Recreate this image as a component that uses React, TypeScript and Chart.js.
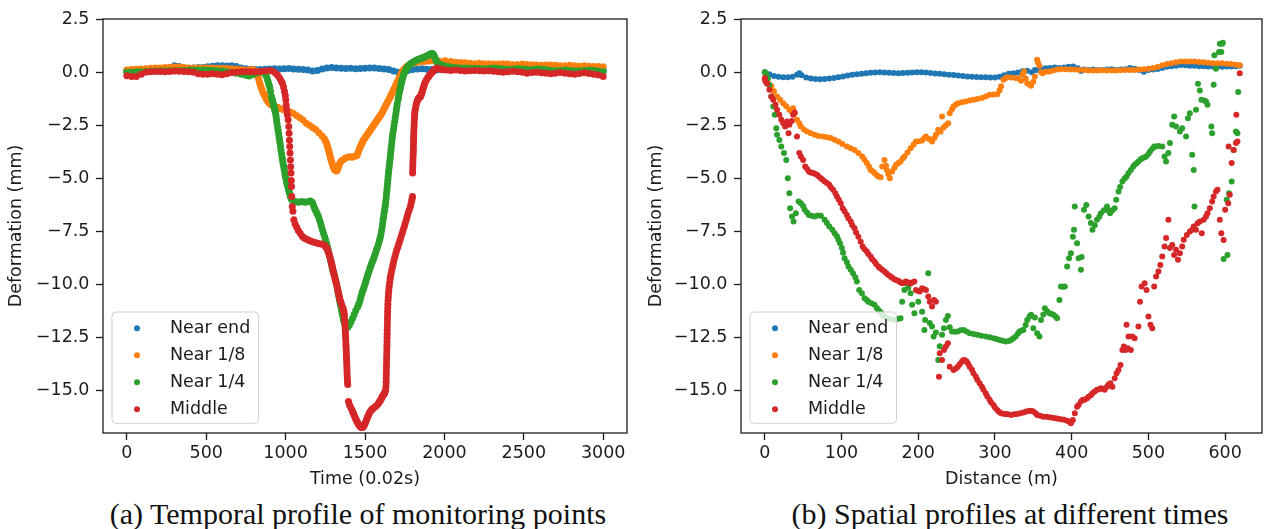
import React, { useEffect, useRef } from "react";
import { Chart, registerables } from "chart.js";

Chart.register(...registerables);

type Pt = [number, number];

const seriesLabels = ["Near end", "Near 1/8", "Near 1/4", "Middle"];
const seriesColors = ["#1f77b4", "#ff7f0e", "#2ca02c", "#d62728"];

const deformationTicks = [2.5, 0, -2.5, -5, -7.5, -10, -12.5, -15];
const timeTicks = [0, 500, 1000, 1500, 2000, 2500, 3000];
const distanceTicks = [0, 100, 200, 300, 400, 500, 600];

const captions = [
  "(a) Temporal profile of monitoring points",
  "(b) Spatial profiles at different times",
];

// ---- (a) deformation vs. time (0.02 s samples) ----
const nearEndTemporal: Pt[] = [
  [0,.08],[30,.1],[60,.12],[90,.1],[120,.12],[150,.14],[180,.15],[210,.16],[240,.18],[270,.22],[300,.3],[330,.26],[360,.2],[390,.18],[420,.2],[450,.22],[480,.22],[510,.25],[540,.28],[570,.3],[600,.3],[630,.29],[660,.3],[690,.26],[720,.2],[750,.16],[780,.14],[810,.12],[840,.12],[870,.14],[900,.15],[930,.16],[960,.15],[990,.16],[1020,.17],[1050,.15],[1080,.14],[1110,.12],[1140,.1],[1170,.05],[1200,.08],[1230,.15],[1260,.2],[1290,.22],[1320,.2],[1350,.18],[1380,.17],[1410,.18],[1440,.16],[1470,.17],[1500,.18],[1530,.2],[1560,.19],[1590,.17],[1620,.15],[1650,.12],[1680,.05],[1710,0],[1740,.04],[1770,.08],[1800,.12],[1830,.15],[1860,.16],[1890,.14],[1920,.12],[1950,.1],[1980,.12],[2010,.14],[2040,.15],[2070,.13],[2100,.12],[2130,.1],[2160,.12],[2190,.14],[2220,.12],[2250,.1],[2280,.12],[2310,.15],[2340,.14],[2370,.12],[2400,.1],[2430,.12],[2460,.14],[2490,.12],[2520,.1],[2550,.11],[2580,.13],[2610,.12],[2640,.1],[2670,.09],[2700,.11],[2730,.12],[2760,.1],[2790,.08],[2820,.1],[2850,.12],[2880,.1],[2910,.08],[2940,.1],[2970,.12],[3000,.1],
];

const nearEighthTemporal: Pt[] = [
  [0,.1],[30,.12],[60,.14],[90,.15],[120,.16],[150,.18],[180,.2],[210,.2],[240,.22],[270,.22],[300,.24],[330,.24],[360,.22],[390,.2],[420,.2],[450,.2],[480,.2],[510,.2],[540,.2],[570,.18],[600,.18],[630,.18],[660,.16],[690,.15],[720,.12],[750,.1],[780,.12],[800,.1],[808,.05],[815,0],[820,-.1],[825,-.2],[830,-.32],[835,-.45],[840,-.58],[845,-.7],[850,-.8],[855,-.9],[860,-.98],[865,-1.05],[870,-1.13],[875,-1.2],[880,-1.28],[885,-1.35],[895,-1.45],[910,-1.55],[930,-1.6],[950,-1.65],[970,-1.72],[990,-1.78],[1010,-1.82],[1030,-1.88],[1050,-1.95],[1070,-2.05],[1090,-2.15],[1110,-2.25],[1130,-2.4],[1150,-2.5],[1170,-2.6],[1190,-2.7],[1210,-2.85],[1230,-3.0],[1245,-3.15],[1252,-3.25],[1258,-3.34],[1262,-3.45],[1266,-3.55],[1270,-3.65],[1273,-3.75],[1277,-3.85],[1280,-3.95],[1284,-4.05],[1287,-4.15],[1291,-4.24],[1294,-4.32],[1298,-4.4],[1302,-4.48],[1306,-4.55],[1310,-4.6],[1320,-4.65],[1325,-4.6],[1330,-4.52],[1335,-4.4],[1340,-4.3],[1350,-4.18],[1361,-4.13],[1375,-4.05],[1390,-4.0],[1405,-3.98],[1420,-4.0],[1435,-3.96],[1445,-3.93],[1451,-3.9],[1455,-3.8],[1460,-3.7],[1465,-3.61],[1470,-3.52],[1475,-3.43],[1480,-3.35],[1485,-3.27],[1490,-3.19],[1497,-3.12],[1503,-3.05],[1510,-2.98],[1516,-2.92],[1522,-2.85],[1528,-2.78],[1535,-2.71],[1541,-2.64],[1548,-2.57],[1554,-2.5],[1561,-2.43],[1567,-2.36],[1574,-2.29],[1580,-2.22],[1587,-2.15],[1593,-2.08],[1600,-2.0],[1606,-1.93],[1613,-1.83],[1619,-1.74],[1626,-1.64],[1632,-1.55],[1639,-1.45],[1645,-1.36],[1652,-1.27],[1658,-1.18],[1664,-1.08],[1670,-.99],[1677,-.88],[1683,-.78],[1690,-.68],[1696,-.58],[1702,-.48],[1708,-.38],[1715,-.28],[1721,-.18],[1728,-.07],[1734,.03],[1741,.09],[1748,.15],[1755,.2],[1762,.25],[1770,.29],[1778,.33],[1788,.38],[1799,.42],[1810,.44],[1820,.46],[1835,.48],[1850,.5],[1876,.5],[1905,.52],[1935,.53],[1965,.52],[2004,.53],[2040,.5],[2070,.47],[2100,.45],[2130,.44],[2160,.42],[2190,.4],[2220,.42],[2250,.4],[2280,.4],[2310,.38],[2340,.38],[2370,.4],[2400,.38],[2430,.35],[2460,.36],[2490,.38],[2520,.36],[2550,.35],[2580,.34],[2610,.32],[2640,.33],[2670,.34],[2700,.32],[2730,.3],[2760,.3],[2790,.32],[2820,.3],[2850,.28],[2880,.3],[2910,.28],[2940,.26],[2970,.27],[3000,.25],
];

const nearQuarterTemporal: Pt[] = [
  [0,0],[30,0],[60,.02],[90,.02],[120,.03],[150,.04],[180,.05],[210,.06],[240,.06],[270,.06],[300,.07],[330,.08],[360,.08],[390,.1],[420,.1],[450,.1],[480,.1],[510,.1],[540,.08],[570,.06],[600,.05],[630,.02],[660,0],[690,-.05],[720,-.1],[750,-.15],[770,-.18],[790,-.12],[810,-.05],[830,0],[850,.02],[866,-.05],[873,-.1],[880,-.2],[885,-.32],[890,-.45],[895,-.58],[900,-.7],[905,-.9],[911,-1.15],[915,-1.27],[918,-1.35],[921,-1.45],[925,-1.55],[928,-1.65],[931,-1.75],[934,-1.84],[937,-1.93],[940,-2.08],[943,-2.25],[946,-2.42],[950,-2.6],[953,-2.75],[956,-2.9],[959,-3.05],[962,-3.19],[965,-3.35],[968,-3.5],[971,-3.68],[975,-3.85],[978,-4.0],[981,-4.15],[984,-4.3],[988,-4.44],[991,-4.57],[994,-4.7],[997,-4.83],[1000,-4.95],[1004,-5.07],[1007,-5.18],[1010,-5.28],[1014,-5.38],[1017,-5.48],[1020,-5.58],[1024,-5.67],[1027,-5.75],[1030,-5.83],[1033,-5.9],[1036,-5.96],[1040,-6.01],[1050,-6.08],[1065,-6.1],[1080,-6.12],[1095,-6.1],[1110,-6.1],[1125,-6.12],[1140,-6.1],[1155,-6.06],[1163,-6.1],[1170,-6.15],[1176,-6.27],[1182,-6.4],[1188,-6.5],[1195,-6.6],[1201,-6.7],[1207,-6.79],[1213,-6.95],[1220,-7.1],[1226,-7.26],[1232,-7.42],[1238,-7.57],[1245,-7.72],[1251,-7.88],[1258,-8.05],[1263,-8.2],[1268,-8.35],[1273,-8.52],[1278,-8.7],[1283,-8.87],[1288,-9.05],[1293,-9.2],[1298,-9.35],[1304,-9.48],[1310,-9.62],[1315,-9.8],[1320,-9.98],[1325,-10.17],[1329,-10.35],[1334,-10.52],[1338,-10.7],[1343,-10.87],[1348,-11.03],[1352,-11.2],[1356,-11.35],[1360,-11.5],[1364,-11.65],[1369,-11.78],[1374,-11.9],[1378,-11.97],[1383,-12.02],[1392,-12.0],[1402,-11.9],[1412,-11.75],[1422,-11.58],[1432,-11.4],[1442,-11.22],[1453,-11.05],[1459,-10.95],[1464,-10.85],[1470,-10.7],[1475,-10.55],[1480,-10.42],[1485,-10.3],[1490,-10.2],[1495,-10.1],[1500,-9.97],[1505,-9.85],[1510,-9.72],[1515,-9.6],[1520,-9.49],[1525,-9.38],[1530,-9.26],[1535,-9.15],[1540,-9.05],[1545,-8.95],[1550,-8.85],[1556,-8.75],[1561,-8.62],[1567,-8.5],[1572,-8.37],[1578,-8.25],[1584,-8.1],[1590,-7.95],[1595,-7.8],[1600,-7.65],[1604,-7.48],[1608,-7.3],[1611,-7.12],[1614,-6.95],[1617,-6.8],[1620,-6.65],[1623,-6.5],[1626,-6.35],[1629,-6.2],[1631,-6.05],[1634,-5.88],[1636,-5.7],[1638,-5.55],[1640,-5.4],[1642,-5.23],[1644,-5.07],[1646,-4.91],[1648,-4.75],[1650,-4.6],[1652,-4.45],[1655,-4.29],[1657,-4.13],[1659,-3.99],[1661,-3.85],[1663,-3.7],[1665,-3.55],[1668,-3.37],[1670,-3.19],[1673,-3.02],[1676,-2.85],[1680,-2.68],[1683,-2.5],[1687,-2.32],[1690,-2.15],[1694,-1.97],[1697,-1.8],[1700,-1.65],[1703,-1.5],[1708,-1.3],[1712,-1.15],[1715,-1.0],[1719,-.87],[1722,-.75],[1725,-.65],[1728,-.55],[1731,-.45],[1734,-.36],[1738,-.25],[1742,-.15],[1746,-.07],[1750,0],[1755,.08],[1760,.15],[1766,.22],[1772,.28],[1778,.33],[1785,.38],[1792,.42],[1799,.45],[1807,.49],[1815,.52],[1823,.56],[1832,.6],[1841,.62],[1850,.63],[1858,.66],[1866,.68],[1875,.71],[1883,.74],[1891,.77],[1900,.8],[1906,.83],[1912,.85],[1917,.87],[1922,.88],[1927,.86],[1932,.82],[1936,.76],[1940,.68],[1945,.59],[1950,.5],[1956,.45],[1962,.4],[1970,.37],[1979,.35],[1987,.32],[1995,.3],[2010,.27],[2025,.25],[2040,.24],[2070,.22],[2100,.2],[2130,.2],[2160,.18],[2190,.18],[2220,.17],[2250,.16],[2280,.18],[2310,.2],[2340,.18],[2370,.15],[2400,.14],[2430,.15],[2460,.17],[2490,.15],[2520,.12],[2550,.12],[2580,.15],[2610,.14],[2640,.12],[2670,.08],[2700,.06],[2730,.08],[2760,.1],[2790,.08],[2820,.05],[2850,.06],[2880,.08],[2910,.1],[2940,.08],[2970,.05],[3000,.02],
];

const middleTemporal: Pt[] = [
  [0,-.17],[30,-.2],[60,-.2],[90,-.1],[120,0],[150,.02],[180,.03],[210,.03],[240,.02],[270,.03],[300,.05],[330,.04],[360,.03],[390,.02],[420,0],[450,-.08],[480,-.1],[510,-.1],[540,-.08],[570,-.1],[600,-.12],[630,-.08],[660,-.02],[690,0],[720,.02],[750,.03],[780,.02],[810,.02],[840,.03],[870,.05],[900,.08],[920,.04],[937,-.05],[950,-.15],[962,-.28],[972,-.4],[980,-.52],[987,-.7],[993,-.91],[998,-1.1],[1001,-1.3],[1004,-1.55],[1007,-1.77],[1011,-2.0],[1016,-2.24],[1020,-2.56],[1022,-2.87],[1024,-3.2],[1026,-3.5],[1028,-3.81],[1030,-4.13],[1032,-4.45],[1034,-4.75],[1036,-5.1],[1037,-5.38],[1039,-5.85],[1042,-6.32],[1046,-6.55],[1052,-6.95],[1060,-7.15],[1070,-7.3],[1080,-7.45],[1092,-7.58],[1105,-7.72],[1117,-7.8],[1130,-7.85],[1143,-7.9],[1155,-7.94],[1170,-7.98],[1185,-8.02],[1200,-8.05],[1215,-8.08],[1230,-8.1],[1245,-8.15],[1251,-8.2],[1257,-8.25],[1262,-8.32],[1266,-8.4],[1270,-8.5],[1275,-8.6],[1280,-8.72],[1284,-8.85],[1288,-8.95],[1291,-9.05],[1294,-9.15],[1297,-9.25],[1301,-9.38],[1304,-9.5],[1308,-9.6],[1311,-9.7],[1314,-9.79],[1317,-9.88],[1320,-9.96],[1323,-10.05],[1327,-10.18],[1330,-10.3],[1333,-10.4],[1336,-10.5],[1340,-10.62],[1343,-10.72],[1347,-10.8],[1350,-10.88],[1355,-11.0],[1361,-11.1],[1364,-11.18],[1366,-11.25],[1368,-11.35],[1370,-11.45],[1371,-11.6],[1373,-11.75],[1374,-11.9],[1375,-12.05],[1376,-12.2],[1377,-12.35],[1378,-12.5],[1379,-12.65],[1380,-12.8],[1381,-12.95],[1382,-13.1],[1382.5,-13.25],[1383,-13.4],[1384,-13.55],[1385,-13.7],[1386,-13.85],[1386.5,-14.0],[1387,-14.15],[1388,-14.3],[1389,-14.45],[1390,-14.58],[1391,-14.7],[1396,-15.5],[1402,-15.65],[1410,-15.78],[1418,-15.9],[1423,-15.99],[1428,-16.08],[1433,-16.17],[1438,-16.25],[1443,-16.34],[1448,-16.42],[1453,-16.49],[1458,-16.56],[1463,-16.61],[1468,-16.66],[1473,-16.7],[1478,-16.72],[1483,-16.72],[1488,-16.7],[1492,-16.65],[1496,-16.6],[1500,-16.53],[1505,-16.45],[1509,-16.37],[1514,-16.28],[1518,-16.2],[1523,-16.12],[1527,-16.05],[1532,-15.98],[1537,-15.93],[1542,-15.88],[1547,-15.85],[1552,-15.82],[1562,-15.76],[1572,-15.7],[1582,-15.62],[1587,-15.56],[1592,-15.5],[1596,-15.45],[1600,-15.4],[1604,-15.34],[1608,-15.28],[1612,-15.23],[1616,-15.18],[1620,-15.14],[1624,-15.1],[1627,-15.03],[1630,-14.95],[1632,-14.78],[1633,-14.6],[1633.5,-14.42],[1634,-14.25],[1634.5,-14.08],[1635,-13.9],[1635.5,-13.72],[1636,-13.55],[1636.5,-13.38],[1637,-13.2],[1637.5,-13.02],[1638,-12.85],[1638.5,-12.68],[1639,-12.5],[1639.5,-12.33],[1640,-12.15],[1640.5,-11.98],[1641,-11.8],[1641.5,-11.62],[1642,-11.45],[1642.5,-11.28],[1643,-11.1],[1644,-10.92],[1645,-10.75],[1646.5,-10.58],[1648,-10.4],[1650,-10.25],[1652,-10.09],[1655,-9.92],[1658,-9.75],[1661,-9.6],[1665,-9.46],[1669,-9.3],[1674,-9.15],[1678,-9.0],[1683,-8.83],[1689,-8.66],[1695,-8.5],[1701,-8.35],[1708,-8.21],[1714,-8.05],[1721,-7.9],[1727,-7.74],[1734,-7.58],[1740,-7.43],[1747,-7.28],[1753,-7.11],[1760,-6.95],[1766,-6.78],[1772,-6.62],[1779,-6.47],[1786,-6.32],[1790,-6.18],[1794,-6.05],[1797,-5.95],[1799,-5.85],[1800,-4.75],[1800.5,-4.6],[1801,-4.45],[1801.5,-4.29],[1802,-4.13],[1803,-3.97],[1804,-3.81],[1804.5,-3.65],[1805,-3.5],[1805.5,-3.34],[1806,-3.18],[1806.5,-3.02],[1807,-2.87],[1808,-2.71],[1809,-2.55],[1810,-2.38],[1811,-2.2],[1812,-2.06],[1813,-1.93],[1815,-1.8],[1818,-1.7],[1821,-1.58],[1824,-1.46],[1828,-1.38],[1832,-1.3],[1836,-1.25],[1840,-1.2],[1845,-1.17],[1850,-1.15],[1854,-1.07],[1857,-1.0],[1860,-.92],[1863,-.83],[1867,-.75],[1870,-.68],[1873,-.6],[1876,-.52],[1882,-.43],[1888,-.35],[1895,-.27],[1901,-.2],[1907,-.14],[1914,-.08],[1920,-.02],[1927,.03],[1933,.08],[1940,.12],[1947,.16],[1953,.19],[1961,.17],[1970,.15],[1980,.13],[1990,.11],[2010,.1],[2040,.08],[2070,.1],[2100,.08],[2130,.05],[2160,.06],[2190,.08],[2220,.06],[2250,.05],[2280,.06],[2310,.04],[2340,.02],[2370,0],[2400,.02],[2430,.04],[2460,.02],[2490,0],[2520,-.05],[2550,-.02],[2580,0],[2610,-.03],[2640,-.05],[2670,-.08],[2700,-.05],[2730,-.02],[2760,-.05],[2790,-.08],[2820,-.1],[2850,-.06],[2880,-.03],[2910,-.06],[2940,-.1],[2970,-.14],[3000,-.2],
];

// ---- (b) deformation vs. distance along the line (m) ----
const nearEndSpatial: Pt[] = [
  [0,0],[6,-.1],[12,-.18],[18,-.22],[24,-.24],[30,-.24],[36,-.22],[42,-.12],[45,-.05],[48,-.15],[54,-.25],[60,-.3],[66,-.32],[72,-.34],[78,-.32],[84,-.3],[90,-.28],[96,-.24],[102,-.2],[108,-.16],[114,-.12],[120,-.1],[126,-.08],[132,-.05],[138,-.03],[144,-.02],[150,0],[156,-.02],[162,-.03],[168,-.04],[174,-.05],[180,-.04],[186,-.03],[192,-.02],[198,0],[204,0],[210,-.02],[216,-.04],[222,-.06],[228,-.08],[234,-.1],[240,-.12],[246,-.14],[252,-.16],[258,-.18],[264,-.2],[270,-.22],[276,-.23],[282,-.24],[288,-.24],[294,-.25],[300,-.25],[306,-.22],[312,-.15],[318,-.08],[324,-.05],[330,-.02],[336,.04],[342,.06],[348,0],[352,.1],[356,.1],[360,.15],[366,.18],[372,.2],[378,.22],[384,.2],[390,.22],[396,.25],[402,.27],[408,.18],[412,.05],[416,.12],[422,.1],[428,.12],[434,.1],[440,.1],[446,.12],[452,.14],[458,.1],[464,.12],[470,.14],[476,.2],[482,.16],[488,.1],[494,.02],[500,.1],[506,.12],[512,.15],[518,.2],[524,.25],[530,.28],[536,.3],[542,.33],[548,.32],[554,.3],[560,.3],[566,.28],[572,.28],[578,.27],[584,.26],[590,.26],[596,.25],[602,.26],[608,.27],[614,.28],[619,.3],
];

const nearEighthSpatial: Pt[] = [
  [0,-.36],[4,-.5],[8.5,-.67],[12,-.9],[16,-1.15],[20,-1.3],[24,-1.46],[28,-1.6],[32,-1.77],[35,-1.85],[37,-1.7],[39,-1.95],[42,-2.24],[45,-2.4],[47,-2.56],[51,-2.7],[55,-2.79],[60,-2.88],[65,-2.95],[70,-3.0],[76,-3.03],[81,-3.06],[86,-3.1],[91,-3.18],[96,-3.26],[101,-3.38],[107,-3.5],[112,-3.58],[117,-3.66],[122,-3.8],[127,-3.97],[130,-4.12],[133,-4.28],[136,-4.45],[138,-4.6],[141,-4.68],[143,-4.75],[146,-4.85],[148,-4.91],[151,-4.95],[153,-4.44],[156,-4.13],[158,-4.4],[159,-4.6],[161,-4.8],[163,-4.99],[166,-4.68],[169,-4.5],[171,-4.36],[174,-4.28],[177,-4.2],[180,-4.05],[182,-3.97],[186,-3.78],[190,-3.58],[194,-3.4],[197,-3.26],[201,-3.25],[205,-3.22],[208,-3.1],[210,-3.03],[214,-3.15],[218,-3.26],[221,-3.1],[223,-2.95],[226,-2.71],[229,-2.8],[231,-2.09],[233,-2.6],[236,-2.5],[239,-2.4],[241,-1.93],[244,-1.75],[246,-1.62],[249,-1.52],[252,-1.46],[257,-1.42],[262,-1.38],[267,-1.34],[272,-1.3],[277,-1.26],[283,-1.22],[288,-1.15],[293,-1.07],[298,-1.05],[303,-1.04],[306,-.85],[308,-.67],[311,-.36],[314,-.28],[316,-.24],[321,-.25],[327,-.28],[331,-.3],[334,-.4],[336,-.1],[338,.03],[340,-.3],[342,-.52],[345,-.58],[347,-.64],[350,-.45],[352,-.2],[355,.58],[356,.45],[358,.3],[360,0],[362,-.05],[366,.02],[371,.03],[376,.08],[381,.12],[386,.14],[392,.13],[398,.12],[404,.12],[410,.1],[416,.1],[422,.08],[428,.08],[434,.08],[440,.09],[446,.08],[452,.08],[458,.08],[464,.09],[470,.1],[476,.1],[482,.1],[488,.12],[494,.14],[500,.16],[506,.19],[512,.24],[518,.32],[524,.38],[530,.42],[536,.46],[542,.5],[548,.5],[554,.5],[560,.5],[566,.48],[572,.46],[578,.44],[584,.42],[590,.42],[596,.42],[602,.4],[608,.38],[614,.35],[619,.32],
];

const nearQuarterSpatial: Pt[] = [
  [0,0],[2,-.1],[4,-.3],[6,-.6],[8.5,-1.15],[11,-1.62],[13,-2.0],[15,-2.64],[16,-2.95],[19,-3.19],[21.5,-3.5],[25,-3.81],[28,-4.13],[30,-4.99],[32,-5.7],[33,-6.4],[35.5,-6.79],[37.5,-7.03],[40.5,-6.64],[44,-6.09],[47,-6.17],[50,-6.3],[52,-6.48],[55,-6.6],[57.5,-6.72],[61,-6.76],[65,-6.79],[69,-6.75],[73,-6.76],[78,-6.95],[81,-7.1],[84,-7.26],[88,-7.42],[91,-7.58],[94,-7.72],[96,-7.89],[98,-8.05],[100.5,-8.28],[102,-8.5],[104,-8.76],[107,-8.95],[109,-9.15],[112,-9.3],[115,-9.46],[118,-9.65],[120,-9.85],[123,-10.25],[126.5,-10.4],[130,-10.64],[133,-10.72],[135,-10.8],[139,-10.88],[143,-10.95],[146,-11.1],[148,-11.19],[151,-11.3],[153,-11.42],[156,-11.5],[158.5,-11.58],[163,-11.62],[169,-11.66],[174,-11.6],[177,-11.58],[179,-10.8],[182,-10.25],[184,-9.93],[187,-10.15],[190,-10.4],[192,-10.95],[195,-11.34],[200,-10.8],[205,-11.27],[208,-12.13],[209,-11.66],[213,-9.46],[215,-11.8],[218,-11.97],[220,-12.44],[223,-12.25],[226,-13.54],[228,-12.9],[231,-12.36],[233.5,-12.05],[236,-11.66],[238.6,-11.47],[241,-12.0],[244,-12.2],[248,-12.22],[251.5,-12.2],[255,-12.15],[259,-12.13],[263,-12.2],[267,-12.29],[272,-12.32],[277,-12.36],[282,-12.4],[288,-12.44],[293,-12.48],[298,-12.52],[302,-12.56],[306,-12.6],[310,-12.64],[314,-12.68],[318,-12.65],[321,-12.6],[324,-12.52],[327,-12.44],[330,-12.3],[332,-12.2],[335,-12.16],[337,-12.13],[340,-11.9],[342,-11.66],[345,-11.5],[347,-11.42],[350,-12.05],[352,-11.55],[355,-12.29],[358,-12.44],[360,-11.66],[363,-11.4],[365,-11.11],[368,-11.25],[371,-11.34],[374,-11.38],[376,-11.42],[379,-11.5],[381,-11.58],[384,-10.72],[386,-10.09],[389,-10.1],[391,-10.09],[394,-9.15],[396.5,-8.76],[399,-8.52],[401.5,-7.74],[403,-7.42],[404,-6.32],[407,-8.05],[409,-8.76],[412,-9.3],[413,-8.7],[416,-6.48],[419,-6.25],[422,-6.79],[425,-7.1],[427,-7.42],[430,-7.2],[433,-6.95],[436,-6.8],[438,-6.64],[442,-6.5],[446,-6.32],[448,-6.5],[450,-6.64],[453,-6.5],[456,-6.4],[458,-6.01],[461,-5.62],[463,-5.4],[466,-5.15],[469,-5.0],[471.5,-4.91],[474,-4.75],[477,-4.6],[480,-4.45],[482,-4.36],[485,-4.28],[487,-4.2],[490,-4.1],[492,-4.05],[495,-4.0],[497,-3.97],[500,-3.85],[502,-3.73],[505,-3.6],[507.5,-3.5],[510,-3.5],[513,-3.47],[518,-3.5],[521,-3.97],[523,-4.2],[526,-3.81],[528,-3.34],[531,-2.48],[533.5,-2.09],[536,-2.56],[541,-2.79],[544,-2.64],[549,-3.03],[551.5,-2.17],[554,-1.93],[557,-3.89],[559,-4.6],[560,-6.32],[562,-1.77],[564.6,-.55],[567,-.86],[569,-1.3],[573,-1.33],[575,-1.38],[577,-1.54],[582,-2.56],[583,-2.87],[585,-.59],[586,.8],[588,.16],[592,.95],[593,1.33],[595,.95],[596,1.33],[597,1.38],[598,-8.79],[602,-6.01],[603,-8.6],[605,-5.7],[608.5,-5.15],[611,-3.66],[614,-2.79],[616,-2.87],[617,-.94],
];

const middleSpatial: Pt[] = [
  [0,-.28],[1,-.44],[3,-.55],[6,-.83],[8.5,-1.15],[11,-1.3],[14,-1.54],[16,-1.77],[19,-2.0],[21.5,-2.24],[24,-2.4],[26.5,-2.56],[29,-2.32],[31,-2.87],[32,-2.48],[35,-2.3],[37,-2.0],[39,-1.9],[42,-3.03],[45,-3.81],[47,-3.97],[50,-4.13],[52.6,-4.44],[55,-4.55],[57.5,-4.68],[60,-4.72],[63,-4.75],[65,-4.78],[68,-4.83],[70,-4.9],[73,-4.99],[75,-5.05],[78,-5.15],[81,-5.22],[84,-5.3],[86,-5.42],[89,-5.54],[92,-5.7],[94,-5.85],[96.5,-6.01],[99,-6.17],[101.5,-6.4],[104,-6.55],[107,-6.72],[109,-6.88],[112,-7.03],[114,-7.2],[117,-7.34],[119,-7.55],[122,-7.74],[125,-7.98],[127.5,-8.21],[130,-8.33],[133,-8.44],[135,-8.56],[138,-8.68],[140,-8.8],[143,-8.91],[145,-9.03],[148,-9.15],[150,-9.22],[153,-9.3],[156,-9.38],[158.5,-9.46],[161,-9.54],[164,-9.62],[166,-9.68],[169,-9.74],[171,-9.78],[174,-9.82],[176,-9.88],[179,-9.93],[181,-9.9],[184,-9.85],[187,-9.9],[190,-9.95],[192,-9.9],[195,-9.85],[197,-10.25],[200,-10.3],[202,-10.32],[205,-10.17],[207,-10.2],[210,-10.25],[213,-10.56],[215,-10.8],[218,-11.03],[220.5,-10.72],[223,-10.8],[227,-14.33],[228,-13.23],[231,-13.54],[233.5,-13.07],[236,-12.91],[238.6,-12.76],[241,-13.86],[246,-14.01],[249,-13.95],[251.5,-13.86],[254,-13.75],[257,-13.62],[259,-13.54],[261,-13.56],[263,-13.62],[265,-13.72],[267,-13.86],[270,-14.0],[272,-14.17],[275,-14.32],[277,-14.48],[280,-14.64],[283,-14.8],[285,-14.95],[288,-15.11],[290,-15.26],[293,-15.42],[295,-15.54],[298,-15.66],[300,-15.78],[303,-15.9],[305,-15.98],[308,-16.05],[311,-16.07],[314,-16.09],[317,-16.1],[321,-16.13],[325,-16.1],[329,-16.09],[333,-16.05],[337,-16.02],[341,-15.97],[345,-15.93],[348,-15.95],[350,-15.97],[353,-16.05],[355,-16.13],[359,-16.17],[363,-16.21],[367,-16.22],[371,-16.24],[375,-16.26],[379,-16.29],[382,-16.31],[386,-16.33],[390,-16.36],[394,-16.4],[397,-16.45],[399,-16.52],[401.5,-16.37],[404,-16.05],[407,-15.74],[409,-15.66],[412,-15.5],[414.5,-15.42],[417,-15.42],[420,-15.35],[422,-15.27],[425,-15.2],[427,-15.11],[430,-15.03],[433,-14.95],[436,-14.92],[438,-14.88],[441,-14.9],[443,-14.95],[446,-14.8],[448,-14.7],[450.5,-14.64],[453,-14.8],[456,-14.4],[458.5,-14.17],[461,-14.01],[463.6,-13.78],[466,-13.07],[468,-12.91],[470,-13.07],[471.5,-11.89],[473,-12.99],[474,-12.44],[477,-13.07],[479,-12.44],[482,-12.52],[487,-11.97],[489,-10.8],[491,-10.09],[495,-9.93],[497.5,-10.25],[500,-11.5],[502.6,-11.89],[505,-12.05],[507.5,-10.09],[510,-9.62],[513,-9.38],[515.5,-9.07],[518,-8.68],[521,-8.21],[523,-7.81],[526,-6.95],[528,-8.28],[531,-8.13],[533.5,-8.6],[536,-8.36],[538.5,-8.83],[541,-8.52],[544,-8.21],[546,-7.89],[550,-7.66],[554,-7.5],[557,-7.42],[559,-7.26],[562,-7.42],[564,-7.11],[567,-7.03],[569.5,-7.58],[572,-6.95],[575,-6.79],[577,-6.64],[580,-6.4],[583,-6.09],[585,-5.85],[588,-5.62],[590,-5.54],[593,-6.95],[595,-7.58],[598,-7.9],[600,-6.48],[604,-6.17],[606,-5.77],[604.5,-3.5],[608.5,-4.28],[611,-3.66],[614,-3.34],[614.5,-2.0],[616,-3.26],[619,-.05],
];

const temporalSeries = [nearEndTemporal, nearEighthTemporal, nearQuarterTemporal, middleTemporal];
const spatialSeries = [nearEndSpatial, nearEighthSpatial, nearQuarterSpatial, middleSpatial];

const FONT = "'DejaVu Sans', sans-serif";
const INK = "#1c1c1c";
const PLOT_TOP = 19;
const PLOT_BOTTOM = 433;
const CANVAS_H = 492;

function signedLabel(v: number, digits: number): string {
  const s = Math.abs(v).toFixed(digits);
  return v < 0 ? "\u2212" + s : s;
}

interface PanelSpec {
  series: Pt[][];
  xTitle: string;
  xMin: number;
  xMax: number;
  xTicks: number[];
  axisWidth: number;
  rightPad: number;
  width: number;
  dotRadius: number;
}

const frameAndLegend = {
  id: "frameAndLegend",
  afterDatasetsDraw(chart: any) {
    const { ctx, chartArea: a } = chart;
    ctx.save();
    ctx.strokeStyle = INK;
    ctx.lineWidth = 1.3;
    ctx.strokeRect(a.left, a.top, a.right - a.left, a.bottom - a.top);

    // legend box in the lower-left corner of the plot
    const boxLeft = a.left + 9;
    const boxBottom = a.bottom - 9.7;
    const rowH = 27;
    const lastRow = boxBottom - 14;
    const firstRow = lastRow - rowH * (seriesLabels.length - 1);
    const boxTop = firstRow - 16.3;
    ctx.beginPath();
    ctx.roundRect(boxLeft, boxTop, 146.5, boxBottom - boxTop, 4);
    ctx.fillStyle = "rgba(255,255,255,0.8)";
    ctx.fill();
    ctx.strokeStyle = "#cfcfcf";
    ctx.lineWidth = 1;
    ctx.stroke();

    ctx.font = `17.5px ${FONT}`;
    ctx.textBaseline = "middle";
    ctx.textAlign = "left";
    seriesLabels.forEach((label, i) => {
      const y = firstRow + i * rowH;
      ctx.beginPath();
      ctx.arc(boxLeft + 25, y, 3, 0, Math.PI * 2);
      ctx.fillStyle = seriesColors[i];
      ctx.fill();
      ctx.fillStyle = INK;
      ctx.fillText(label, boxLeft + 58, y);
    });
    ctx.restore();
  },
};

function buildChart(canvas: HTMLCanvasElement, spec: PanelSpec) {
  const tickFont = { family: FONT, size: 17.5 };
  return new Chart(canvas, {
    type: "scatter",
    data: {
      datasets: spec.series.map((pts, i) => ({
        label: seriesLabels[i],
        data: pts.map(([x, y]) => ({ x, y })),
        backgroundColor: seriesColors[i],
        borderWidth: 0,
        pointRadius: spec.dotRadius,
        pointHoverRadius: spec.dotRadius,
        order: spec.series.length - i,
      })),
    },
    options: {
      animation: false,
      responsive: false,
      maintainAspectRatio: false,
      devicePixelRatio: 1,
      events: [],
      layout: { padding: { top: PLOT_TOP, right: spec.rightPad, left: 0, bottom: 0 } },
      plugins: { legend: { display: false }, tooltip: { enabled: false } },
      scales: {
        x: {
          type: "linear",
          min: spec.xMin,
          max: spec.xMax,
          afterBuildTicks: (s: any) => {
            s.ticks = spec.xTicks.map((v) => ({ value: v }));
          },
          afterFit: (s: any) => {
            s.height = CANVAS_H - PLOT_BOTTOM;
          },
          grid: { drawOnChartArea: false, drawTicks: true, tickLength: 7, tickColor: INK, tickWidth: 1.3 },
          border: { display: false },
          ticks: {
            color: INK,
            font: tickFont,
            padding: 3,
            maxRotation: 0,
            autoSkip: false,
            callback: (v: any) => String(v),
          },
          title: { display: true, text: spec.xTitle, color: INK, font: tickFont, padding: { top: 0, bottom: 2 } },
        },
        y: {
          type: "linear",
          min: -16.98,
          max: 2.5,
          afterBuildTicks: (s: any) => {
            s.ticks = deformationTicks.map((v) => ({ value: v }));
          },
          afterFit: (s: any) => {
            s.width = spec.axisWidth;
          },
          grid: { drawOnChartArea: false, drawTicks: true, tickLength: 7, tickColor: INK, tickWidth: 1.3 },
          border: { display: false },
          ticks: {
            color: INK,
            font: tickFont,
            padding: 6.5,
            autoSkip: false,
            callback: (v: any) => signedLabel(Number(v), 1),
          },
          title: { display: true, text: "Deformation (mm)", color: INK, font: tickFont, padding: { top: 5.5, bottom: 0 } },
        },
      },
    } as any,
    plugins: [frameAndLegend],
  });
}

function Panel({ spec, left }: { spec: PanelSpec; left: number }) {
  const ref = useRef<HTMLCanvasElement>(null);
  useEffect(() => {
    const chart = buildChart(ref.current as HTMLCanvasElement, spec);
    return () => chart.destroy();
  }, [spec]);
  return (
    <canvas
      ref={ref}
      width={spec.width}
      height={CANVAS_H}
      style={{ position: "absolute", left, top: 0, width: spec.width, height: CANVAS_H }}
    />
  );
}

const temporalPanel: PanelSpec = {
  series: temporalSeries,
  xTitle: "Time (0.02s)",
  xMin: -150,
  xMax: 3150,
  xTicks: timeTicks,
  axisWidth: 103,
  rightPad: 13,
  width: 640,
  dotRadius: 3.5,
};

const spatialPanel: PanelSpec = {
  series: spatialSeries,
  xTitle: "Distance (m)",
  xMin: -31,
  xMax: 648,
  xTicks: distanceTicks,
  axisWidth: 101,
  rightPad: 1,
  width: 625,
  dotRadius: 3,
};

const captionStyle: React.CSSProperties = {
  position: "absolute",
  top: 496,
  width: 600,
  textAlign: "center",
  fontFamily: "'Liberation Serif', 'Times New Roman', serif",
  fontSize: 30,
  lineHeight: "35px",
  color: "#111",
  whiteSpace: "nowrap",
};

export default function App() {
  return (
    <div
      style={{
        position: "fixed",
        left: 0,
        top: 0,
        width: 1265,
        height: 529,
        background: "#ffffff",
        overflow: "hidden",
      }}
    >
      <Panel spec={temporalPanel} left={0} />
      <Panel spec={spatialPanel} left={640} />
      <div style={{ ...captionStyle, left: 358 - 300 }}>{captions[0]}</div>
      <div style={{ ...captionStyle, left: 1010 - 300 }}>{captions[1]}</div>
    </div>
  );
}
